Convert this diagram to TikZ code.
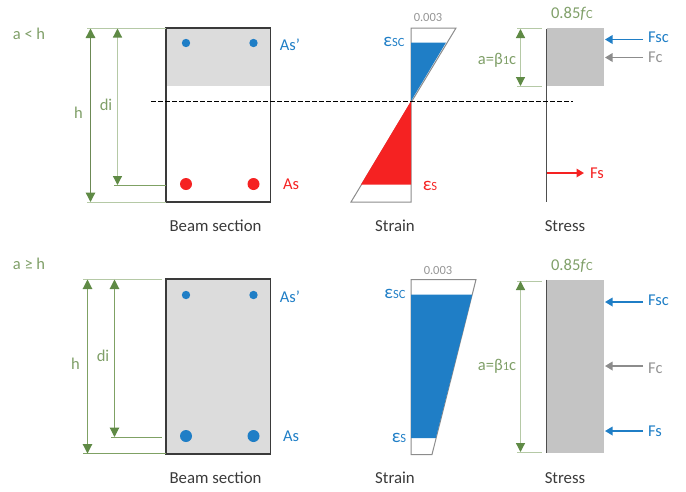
\documentclass[tikz,border=0pt]{standalone}
\usepackage{fontspec}
\setmainfont{Carlito}
\usetikzlibrary{arrows.meta}
\definecolor{gtxt}{HTML}{7F9F68}
\definecolor{gline}{HTML}{7FA164}
\definecolor{gpale}{HTML}{B5C9A6}
\definecolor{gtip}{HTML}{5F8A45}
\definecolor{bl}{HTML}{1F7EC6}
\definecolor{rd}{HTML}{F52222}
\definecolor{cgray}{HTML}{DCDCDC}
\definecolor{sgray}{HTML}{C4C4C4}
\definecolor{agray}{HTML}{8C8C8C}
\definecolor{tgray}{HTML}{949494}
\definecolor{dk}{HTML}{3A3A3A}
\newcommand{\sm}[1]{{\fontsize{12.5}{13}\selectfont #1}}
\newcommand{\eps}[1]{{\fontsize{19}{20}\selectfont ε}\sm{#1}}
\tikzset{
  x=1pt,y=-1pt,
  lbl/.style={inner sep=0pt,font=\fontsize{16.5}{18}\selectfont,text=#1},
  lbl/.default=black,
  title/.style={inner sep=0pt,font=\fontsize{16.8}{18}\selectfont,text=dk},
  sect/.style={draw=dk,line width=1.3pt},
  ext/.style={draw=gpale,line width=1pt},
  extd/.style={draw=gline,line width=.9pt},
  tipg/.style={},
  dim/.style={draw=gline,line width=1.1pt,{Triangle[length=9.5pt,width=9.5pt,color=gtip]}-{Triangle[length=9.5pt,width=9.5pt,color=gtip]}},
  dimh/.style={draw=gline!85!black,line width=1.3pt,{Triangle[length=9.5pt,width=9.5pt,color=gtip]}-{Triangle[length=9.5pt,width=9.5pt,color=gtip]}},
  dimp/.style={draw=gpale,line width=1.2pt,{Triangle[length=9pt,width=9pt,color=gtip]}-{Triangle[length=9pt,width=9pt,color=gtip]}},
  force/.style={draw=#1,line width=1.7pt,-{Triangle[length=7.5pt,width=8.5pt,color=#1]}},
  outl/.style={draw=agray,line width=1pt},
  axis/.style={draw=dk!90,line width=.8pt},
}
\begin{document}
\begin{tikzpicture}
\useasboundingbox (0,0) rectangle (686,491);
% ---------- upper row
\node[lbl=gtxt] (caseA) at (29,34) {a < h};
\fill[cgray] (166,28) rectangle (270.5,86);
\node[sect,minimum width=104.5pt,minimum height=174pt,inner sep=0pt] (secA) at (218.25,115) {};
\foreach \n/\x in {a/186,b/253.5}{
  \fill[bl] (\x,43) circle (4.2);
  \fill[rd] (\x,184) circle (6);
}
\node[lbl=bl] (asA1) at (290,45) {As’};
\node[lbl=rd] (asA2) at (291,184.5) {As};
\node[title] (tA1) at (215.5,226) {Beam section};
% dimension lines
\coordinate (hAt) at (90.5,28.5); \coordinate (hAb) at (90.5,202);
\coordinate (dAt) at (117.5,28.5); \coordinate (dAb) at (117.5,185);
\draw[ext] (87,28.2) -- (166,28.2);
\draw[ext] (87,202) -- (166,202);
\draw[extd] (114,185) -- (166,185);
\draw[dimh] (hAt) -- (hAb);
\draw[dimp] (dAt) -- (dAb);
\node[lbl=gtxt] (hA) at (78.5,113) {h};
\node[lbl=gtxt] (diA) at (106,104.5) {di};
% strain
\draw[outl,fill=white] (411,28) -- (456,28) -- (351,202) -- (411,202) -- cycle;
\fill[bl] (411,42.5) -- (446,42.5) -- (411,101) -- cycle;
\fill[rd] (411,101) -- (361,184.5) -- (411,184.5) -- cycle;
\node[lbl=tgray,font=\fontsize{12.5}{15}\selectfont] (eA) at (428,17) {0.003};
\node[lbl=bl] (escA) at (394,42) {\eps{SC}};
\node[lbl=rd] (esA) at (430,186) {\eps{S}};
\node[title] (tA2) at (395,226) {Strain};
% stress
\fill[sgray] (547,28) rectangle (604,86);
\coordinate (sAt) at (546.5,28.5); \coordinate (sAb) at (546.5,202);
\draw[axis] (sAt) -- (sAb);
\draw[ext] (517,28.5) -- (542,28.5);
\draw[ext] (517,86) -- (542,86);
\coordinate (aAt) at (520.5,29); \coordinate (aAb) at (520.5,86);
\draw[dimp] (aAt) -- (aAb);
\node[lbl=gtxt] (bA) at (497,60) {a=β\sm{1}c};
\node[lbl=gtxt,font=\fontsize{16.5}{18}\selectfont] (fA) at (572,14) {0.85\textit{f}\sm{C}};
\node[lbl=bl,anchor=west] (FscA) at (648,37) {Fsc};
\node[lbl=tgray,anchor=west] (FcA) at (648,57) {Fc};
\node[lbl=rd,anchor=west] (FsA) at (590,173) {Fs};
\coordinate (pA1) at (605,39.5); \coordinate (pA2) at (605,57.5);
\coordinate (pA3) at (547,173);
\draw[force=bl] (643,39.5) -- (pA1);
\draw[force=agray] (643,57.5) -- (pA2);
\draw[force=rd] (pA3) -- (584,173);
\node[title] (tA3) at (565,226) {Stress};
% neutral axis
\coordinate (n1) at (151,101); \coordinate (n2) at (573,101);
\draw[draw=black,line width=.6pt,dash pattern=on 4.6pt off 2.4pt] (n1) -- (n2);
% ---------- lower row
\node[lbl=gtxt] (caseB) at (29,264) {a \symbol{"2265} h};
\node[sect,fill=cgray,minimum width=104.5pt,minimum height=175pt,inner sep=0pt] (secB) at (218.25,366.5) {};
\foreach \n/\x in {a/186,b/253.5}{
  \fill[bl] (\x,295) circle (4.2);
  \fill[bl] (\x,436) circle (6);
}
\node[lbl=bl] (asB1) at (290,297) {As’};
\node[lbl=bl] (asB2) at (291,436.5) {As};
\node[title] (tB1) at (215.5,478) {Beam section};
\coordinate (hBt) at (87.5,279.5); \coordinate (hBb) at (87.5,453.5);
\coordinate (dBt) at (114.5,279.5); \coordinate (dBb) at (114.5,437);
\draw[ext] (83,279) -- (162,279);
\draw[extd] (83,453.5) -- (166,453.5);
\draw[extd] (111,437) -- (162,437);
\draw[dim] (hBt) -- (hBb);
\draw[dim] (dBt) -- (dBb);
\node[lbl=gtxt] (hB) at (75.5,363.5) {h};
\node[lbl=gtxt] (diB) at (103,356) {di};
% strain
\draw[outl,fill=white] (411,279.5) -- (476,279.5) -- (432,454.5) -- (411,454.5) -- cycle;
\fill[bl] (411,294.5) -- (472.3,294.5) -- (435.8,438) -- (411,438) -- cycle;
\node[lbl=tgray,font=\fontsize{12.5}{15}\selectfont] (eB) at (438,270) {0.003};
\node[lbl=bl] (escB) at (395,294) {\eps{SC}};
\node[lbl=bl] (esB) at (399,438) {\eps{S}};
\node[title] (tB2) at (395,478) {Strain};
% stress
\fill[sgray] (547,279.5) rectangle (604,453);
\coordinate (sBt) at (546.5,279.5); \coordinate (sBb) at (546.5,453);
\draw[axis] (sBt) -- (sBb);
\draw[ext] (517,281) -- (542,281);
\draw[ext] (517,452) -- (542,452);
\coordinate (aBt) at (520.5,281); \coordinate (aBb) at (520.5,452);
\draw[dimp] (aBt) -- (aBb);
\node[lbl=gtxt] (bB) at (497,366) {a=β\sm{1}c};
\node[lbl=gtxt,font=\fontsize{16.5}{18}\selectfont] (fB) at (572,266) {0.85\textit{f}\sm{C}};
\node[lbl=bl,anchor=west] (FscB) at (648,300) {Fsc};
\node[lbl=tgray,anchor=west] (FcB) at (648,368) {Fc};
\node[lbl=bl,anchor=west] (FsB) at (648,431) {Fs};
\coordinate (pB1) at (605,302); \coordinate (pB2) at (605,366); \coordinate (pB3) at (605,431);
\draw[force=bl] (643,302) -- (pB1);
\draw[force=agray] (643,366) -- (pB2);
\draw[force=bl] (643,431) -- (pB3);
\node[title] (tB3) at (565,478) {Stress};
\end{tikzpicture}
\end{document}
